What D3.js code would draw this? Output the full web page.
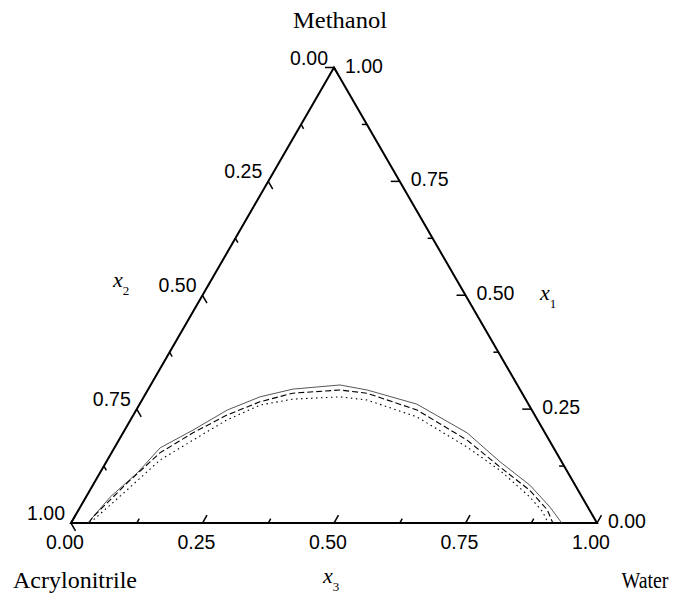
<!DOCTYPE html>
<html>
<head>
<meta charset="utf-8">
<script src="https://cdn.jsdelivr.net/npm/d3@7"></script>
<style>
  body { margin: 0; background: #fff; }
  svg { display: block; }
</style>
</head>
<body>
<svg id="chart" width="681" height="595"></svg>
<script>
// tick positions along each side (fractions)
var tickValues = [0, 0.125, 0.25, 0.375, 0.5, 0.625, 0.75, 0.875, 1];
var labelValues = [0, 0.25, 0.5, 0.75, 1];
var tickLabels = ["0.00", "0.25", "0.50", "0.75", "1.00"];
var vertexNames = ["Methanol", "Acrylonitrile", "Water"];

// binodal curves, each point = [x1 (methanol), x3 (water)]
var curveSolid = [
  [0, 0.032], [0.057, 0.046], [0.110, 0.071], [0.165, 0.087], [0.204, 0.130],
  [0.248, 0.173], [0.277, 0.221], [0.294, 0.275], [0.303, 0.360], [0.292, 0.417],
  [0.261, 0.527], [0.198, 0.654], [0.134, 0.749], [0.083, 0.831], [0.035, 0.893],
  [0, 0.933]
];
var curveDashed = [
  [0, 0.034], [0.013, 0.035], [0.088, 0.063], [0.154, 0.092], [0.198, 0.133],
  [0.237, 0.178], [0.266, 0.226], [0.285, 0.279], [0.292, 0.365], [0.285, 0.420],
  [0.248, 0.534], [0.182, 0.662], [0.123, 0.754], [0.072, 0.836], [0.029, 0.891],
  [0, 0.916]
];
var curveDotted = [
  [0, 0.036], [0.072, 0.070], [0.138, 0.100], [0.182, 0.141], [0.226, 0.183],
  [0.259, 0.230], [0.272, 0.286], [0.277, 0.373], [0.270, 0.428], [0.233, 0.541],
  [0.167, 0.669], [0.116, 0.757], [0.057, 0.844], [0.024, 0.885], [0, 0.907]
];

var svg = d3.select("#chart");
var sans = "Liberation Sans, Arial, sans-serif";
var serif = "Liberation Serif, Times New Roman, serif";
var fs = 19.5;

// horizontal position and height inside the triangle
var xs = d3.scaleLinear().domain([0, 1]).range([71, 597]);
var ys = d3.scaleLinear().domain([0, 1]).range([523, 67.5]);

function pt(x1, x3) {
  return { x: xs(x3 + x1 / 2), y: ys(x1) };
}

// outline
var A = pt(0, 0), W = pt(0, 1), M = pt(1, 0);
svg.append("path")
  .attr("d", "M" + A.x + "," + A.y + "L" + M.x + "," + M.y + "L" + W.x + "," + W.y + "Z")
  .attr("fill", "none")
  .attr("stroke", "#000")
  .attr("stroke-width", 2)
  .attr("stroke-linejoin", "miter");

// ticks on the three sides
var sides = [
  // bottom: x3, tick goes up-right
  { pos: function(v) { return pt(0, v); }, dx: 0.5, dy: -0.866 },
  // right: x1, tick goes left
  { pos: function(v) { return pt(v, 1 - v); }, dx: -1, dy: 0 },
  // left: x2, tick goes down-right
  { pos: function(v) { return pt(1 - v, 0); }, dx: 0.5, dy: 0.866 }
];
var g = svg.append("g");
sides.forEach(function(s) {
  tickValues.forEach(function(v) {
    var p = s.pos(v);
    var len = (Math.round(v * 8) % 2 === 0) ? 9 : 5;
    g.append("line")
      .attr("x1", p.x).attr("y1", p.y)
      .attr("x2", p.x + s.dx * len).attr("y2", p.y + s.dy * len)
      .attr("stroke", "#000")
      .attr("stroke-width", 1.5);
  });
});

// tick labels
labelValues.forEach(function(v, i) {
  var b = sides[0].pos(v);
  g.append("text")
    .attr("x", b.x - 6).attr("y", b.y + 25.5)
    .attr("text-anchor", "middle")
    .attr("font-family", sans).attr("font-size", fs)
    .text(tickLabels[i]);
  var r = sides[1].pos(v);
  g.append("text")
    .attr("x", r.x + 11).attr("y", r.y + 5)
    .attr("font-family", sans).attr("font-size", fs)
    .text(tickLabels[i]);
  var l = sides[2].pos(v);
  g.append("text")
    .attr("x", l.x - 6).attr("y", l.y - 3)
    .attr("text-anchor", "end")
    .attr("font-family", sans).attr("font-size", fs)
    .text(tickLabels[i]);
});

// curves
var line = d3.line()
  .x(function(d) { return pt(d[0], d[1]).x; })
  .y(function(d) { return pt(d[0], d[1]).y; });

svg.append("path").datum(curveSolid)
  .attr("d", line).attr("fill", "none")
  .attr("stroke", "#444").attr("stroke-width", 0.9);
svg.append("path").datum(curveDashed)
  .attr("d", line).attr("fill", "none")
  .attr("stroke", "#000").attr("stroke-width", 1.1)
  .attr("stroke-dasharray", "6,3");
svg.append("path").datum(curveDotted)
  .attr("d", line).attr("fill", "none")
  .attr("stroke", "#000").attr("stroke-width", 1.1)
  .attr("stroke-dasharray", "1.5,3.5");

// vertex names
var names = [
  { text: vertexNames[0], x: 340, y: 28, w: 94 },
  { text: vertexNames[1], x: 75, y: 588, w: 124 },
  { text: vertexNames[2], x: 645, y: 588, w: 47 }
];
names.forEach(function(n) {
  svg.append("text")
    .attr("x", n.x - n.w / 2).attr("y", n.y)
    .attr("font-family", serif).attr("font-size", 23)
    .attr("textLength", n.w)
    .attr("lengthAdjust", "spacingAndGlyphs")
    .text(n.text);
});

// axis variable labels x1, x2, x3
var vars = [
  { sub: "1", x: 540, y: 300 },
  { sub: "2", x: 113, y: 287 },
  { sub: "3", x: 323, y: 583 }
];
vars.forEach(function(v) {
  var t = svg.append("text")
    .attr("x", v.x).attr("y", v.y)
    .attr("font-family", serif).attr("font-size", 22);
  t.append("tspan").attr("font-style", "italic").text("x");
  t.append("tspan").attr("font-size", 13).attr("dy", 8).text(v.sub);
});
</script>
</body>
</html>
